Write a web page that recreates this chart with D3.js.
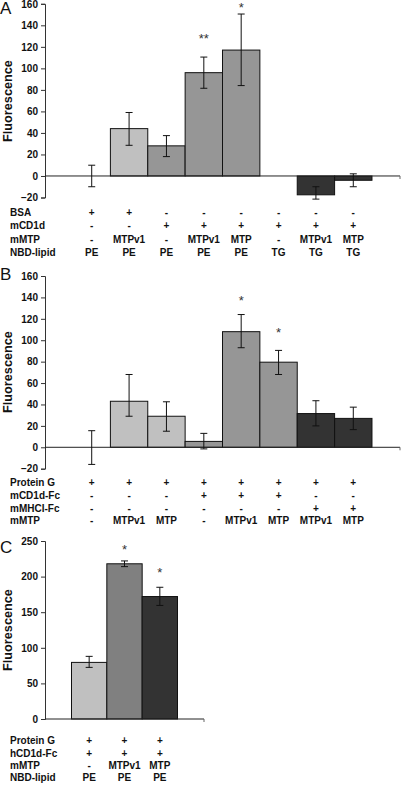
<!DOCTYPE html>
<html><head><meta charset="utf-8">
<script src="https://cdn.jsdelivr.net/npm/d3@7"></script>
<style>
body{margin:0;background:#fff;}
svg{display:block;font-family:"Liberation Sans",Arial,sans-serif;}
</style></head>
<body><svg id="c" width="401" height="785"></svg>
<script>
// Panel A data
const catsA = ["a1","a2","a3","a4","a5","a6","a7","a8"];
const valuesA = [0, 44, 28, 96, 117, 0, -17.5, -4];
const hiA = [10, 59, 37.5, 110.5, 150.5, null, -10, 2];
const loA = [-10, 28.5, 18, 81.5, 84, null, -21.5, -10];
const colorsA = [null, "#c0c0c0", "#969696", "#969696", "#969696", null, "#333333", "#333333"];
const starsA = [null, null, null, "**", "*", null, null, null];
const starAtA = [null, null, null, 130, 159, null, null, null];
const rowNamesA = ["BSA", "mCD1d", "mMTP", "NBD-lipid"];
const rowsA = [
  ["+","+","-","-","-","-","-","-"],
  ["-","-","+","+","+","+","+","+"],
  ["-","MTPv1","-","MTPv1","MTP","-","MTPv1","MTP"],
  ["PE","PE","PE","PE","PE","TG","TG","TG"]
];
const ticksA = [-20,0,20,40,60,80,100,120,140,160];

// Panel B data
const catsB = ["b1","b2","b3","b4","b5","b6","b7","b8"];
const valuesB = [0, 43, 29, 5.5, 108, 79.5, 31.5, 27];
const hiB = [15.5, 68, 42.5, 13, 124, 90.5, 43.5, 37.5];
const loB = [-16, 29, 15, -1.5, 93, 68, 20, 16.5];
const colorsB = [null, "#c0c0c0", "#c0c0c0", "#969696", "#969696", "#969696", "#333333", "#333333"];
const starsB = [null, null, null, null, "*", "*", null, null];
const starAtB = [null, null, null, null, 139.5, 109.5, null, null];
const rowNamesB = ["Protein G", "mCD1d-Fc", "mMHCI-Fc", "mMTP"];
const rowsB = [
  ["+","+","+","+","+","+","+","+"],
  ["-","-","-","+","+","+","-","-"],
  ["-","-","-","-","-","-","+","+"],
  ["-","MTPv1","MTP","-","MTPv1","MTP","MTPv1","MTP"]
];
const ticksB = [-20,0,20,40,60,80,100,120,140,160];

// Panel C data
const catsC = ["c1","c2","c3"];
const valuesC = [79.5, 218, 172];
const hiC = [88, 222, 185];
const loC = [72.5, 214, 159.5];
const colorsC = ["#c0c0c0", "#808080", "#333333"];
const starsC = [null, "*", "*"];
const starAtC = [null, 242, 210.5];
const rowNamesC = ["Protein G", "hCD1d-Fc", "mMTP", "NBD-lipid"];
const rowsC = [
  ["+","+","+"],
  ["+","+","+"],
  ["-","MTPv1","MTP"],
  ["PE","PE","PE"]
];
const ticksC = [0,50,100,150,200,250];

const svg = d3.select("#c");

function panel(o){
  const g = svg.append("g");
  const x = d3.scaleBand().domain(o.cats).range([o.x0, o.x1]).paddingInner(0).paddingOuter(0.75);
  const y = d3.scaleLinear().domain(o.domain).range(o.yRange);
  // letter
  g.append("text").attr("x", 0).attr("y", o.letterY).attr("font-size", 17).attr("fill","#111").text(o.letter);
  // y label
  g.append("text").attr("transform", `translate(12,${o.labelY}) rotate(-90)`)
    .attr("text-anchor","middle").attr("font-size", 12.7).attr("font-weight","bold").attr("fill","#111").text("Fluorescence");
  // bars
  const data = o.cats.map((c,i)=>({c, v:o.values[i], hi:o.hi[i], lo:o.lo[i], col:o.colors[i], star:o.stars[i], starAt:o.starAt[i]}));
  g.selectAll("rect.bar").data(data.filter(d=>d.col && d.v!==0)).join("rect")
    .attr("x", d=>x(d.c)).attr("width", x.bandwidth())
    .attr("y", d=>y(Math.max(0,d.v))).attr("height", d=>Math.abs(y(d.v)-y(0)))
    .attr("fill", d=>d.col).attr("stroke","#111").attr("stroke-width",1);
  // y axis
  const ya = d3.axisLeft(y).tickValues(o.ticks).tickSize(4).tickPadding(3).tickFormat(d3.format("d"));
  const ag = g.append("g").attr("transform",`translate(${o.x0},0)`).call(ya);
  ag.selectAll("text").attr("font-size",10).attr("font-weight","bold").attr("fill","#111").attr("font-family","Liberation Sans, Arial, sans-serif");
  ag.select(".domain").attr("stroke","#333");
  ag.selectAll(".tick line").attr("stroke","#333");
  // x baseline
  g.append("line").attr("x1", o.x0).attr("x2", o.x1).attr("y1", y(0)).attr("y2", y(0)).attr("stroke","#222");
  g.append("line").attr("x1", o.x1).attr("x2", o.x1).attr("y1", y(0)).attr("y2", y(0)+3).attr("stroke","#666");
  // error bars
  const eb = data.filter(d=>d.hi!==null);
  const cx = d=>x(d.c)+x.bandwidth()/2;
  g.selectAll("line.ev").data(eb).join("line").attr("x1",cx).attr("x2",cx).attr("y1",d=>y(d.hi)).attr("y2",d=>y(d.lo)).attr("stroke","#111");
  g.selectAll("line.eh").data(eb).join("line").attr("x1",d=>cx(d)-3.5).attr("x2",d=>cx(d)+3.5).attr("y1",d=>y(d.hi)).attr("y2",d=>y(d.hi)).attr("stroke","#111");
  g.selectAll("line.el").data(eb).join("line").attr("x1",d=>cx(d)-3.5).attr("x2",d=>cx(d)+3.5).attr("y1",d=>y(d.lo)).attr("y2",d=>y(d.lo)).attr("stroke","#111");
  // stars
  g.selectAll("text.star").data(data.filter(d=>d.star)).join("text")
    .attr("x", cx).attr("y", d=>y(d.starAt)+7.4).attr("text-anchor","middle")
    .attr("font-size",13).attr("fill","#333").text(d=>d.star);
  // row labels
  o.rowNames.forEach((nm,r)=>{
    const yy = o.rowY0 + r*o.rowStep;
    g.append("text").attr("x",10).attr("y",yy).attr("dy","0.35em").attr("font-size",10).attr("font-weight","bold").attr("fill","#111").text(nm);
    g.selectAll(null).data(o.rows[r]).join("text")
      .attr("x",(d,i)=>x(o.cats[i])+x.bandwidth()/2).attr("y",yy).attr("dy","0.35em")
      .attr("text-anchor","middle").attr("font-size",10).attr("font-weight","bold").attr("fill","#111").text(d=>d);
  });
}

panel({cats:catsA, values:valuesA, hi:hiA, lo:loA, colors:colorsA, stars:starsA, starAt:starAtA,
  rowNames:rowNamesA, rows:rowsA, ticks:ticksA, domain:[-20,160], yRange:[197.5,3.8], x0:45, x1:400,
  letter:"A", letterY:14, labelY:101, rowY0:212.5, rowStep:13.3});
panel({cats:catsB, values:valuesB, hi:hiB, lo:loB, colors:colorsB, stars:starsB, starAt:starAtB,
  rowNames:rowNamesB, rows:rowsB, ticks:ticksB, domain:[-20,160], yRange:[468.7,276], x0:45, x1:400,
  letter:"B", letterY:280, labelY:372, rowY0:482.7, rowStep:12.7});
panel({cats:catsC, values:valuesC, hi:hiC, lo:loC, colors:colorsC, stars:starsC, starAt:starAtC,
  rowNames:rowNamesC, rows:rowsC, ticks:ticksC, domain:[0,250], yRange:[719,541], x0:45, x1:204,
  letter:"C", letterY:553, labelY:630, rowY0:740.7, rowStep:12.4});
</script></body></html>
